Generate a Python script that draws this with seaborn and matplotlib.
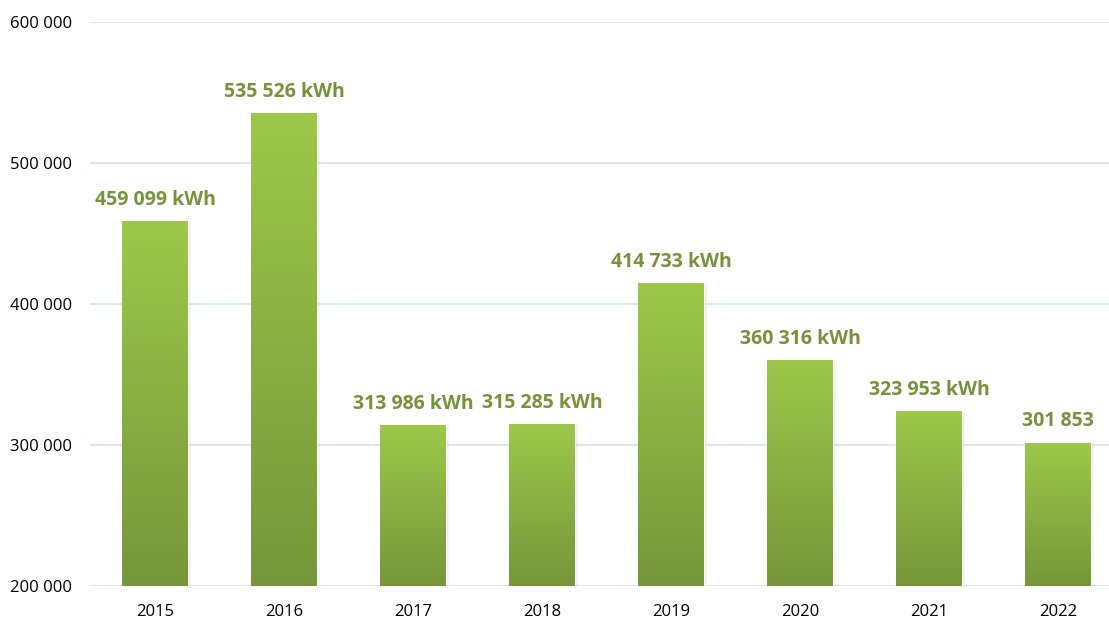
import numpy as np
import pandas as pd
import matplotlib.pyplot as plt
import matplotlib.colors as mcolors
import seaborn as sns

years = ['2015', '2016', '2017', '2018', '2019', '2020', '2021', '2022']
energy = [459099, 535526, 313986, 315285, 414733, 360316, 323953, 301853]
labels = ['459 099 kWh', '535 526 kWh', '313 986 kWh', '315 285 kWh',
          '414 733 kWh', '360 316 kWh', '323 953 kWh', '301 853']
yticks = [200000, 300000, 400000, 500000, 600000]

df = pd.DataFrame({'Jahr': years, 'kWh': energy})

sns.set_style('white')
plt.rcParams['font.family'] = ['Open Sans', 'DejaVu Sans']

fig = plt.figure(figsize=(11.09, 6.19), dpi=100)
# axes runs a little past the right edge, like the original
ax = fig.add_axes([0.0816, 0.053, 0.9306, 0.911])

sns.barplot(data=df, x='Jahr', y='kWh', color='#8DB443', width=0.51, ax=ax, zorder=2)

# gradient fill clipped to each bar
grad = mcolors.LinearSegmentedColormap.from_list('g', ['#76963A', '#9DC84A'])
ax.set_ylim(200000, 600000)
for p in ax.patches:
    x0, y0 = p.get_x(), p.get_y()
    w, h = p.get_width(), p.get_height()
    # faint shadow
    ax.bar(x0 + w / 2 + 0.012, h, width=w + 0.01, bottom=y0, color='#000000', alpha=0.07, zorder=1.5)
    img = ax.imshow(np.linspace(0, 1, 256).reshape(-1, 1), cmap=grad, origin='lower',
                    extent=[x0, x0 + w, 200000, y0 + h], aspect='auto', zorder=2.5)
    img.set_clip_path(p)
ax.set_xlim(-0.5, len(years) - 0.5)
ax.set_ylim(200000, 600000)

for i, (v, t) in enumerate(zip(energy, labels)):
    ax.annotate(t, (i, v), xytext=(0, 8), textcoords='offset points', ha='center', va='bottom',
                fontsize=14, fontweight='bold', color='#76933C', zorder=4)

ax.set_yticks(yticks)
ax.set_yticklabels([f'{v:,}'.replace(',', ' ') for v in yticks])
ax.yaxis.grid(True, color='#D5E0F2', linewidth=1.2, zorder=0)
ax.set_axisbelow(True)
ax.tick_params(axis='both', labelsize=12, colors='black', length=0)
ax.tick_params(axis='y', pad=13.5)
ax.tick_params(axis='x', pad=13)
ax.set_xlabel('')
ax.set_ylabel('')
sns.despine(ax=ax, left=True, bottom=True)

fig.savefig('out.png', dpi=100)
